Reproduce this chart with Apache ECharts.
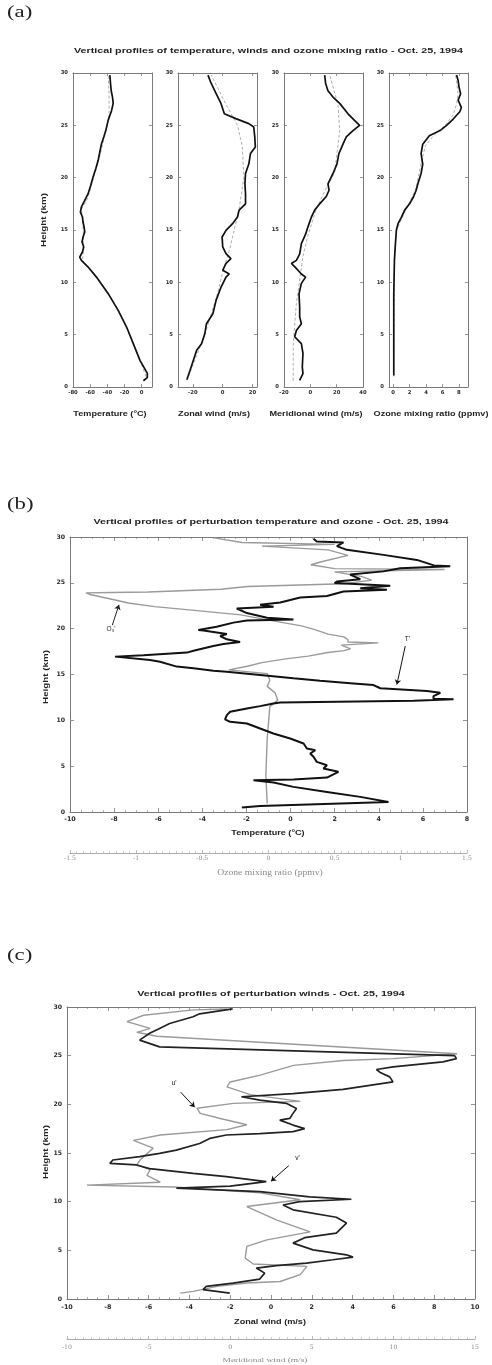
<!DOCTYPE html>
<html><head><meta charset="utf-8">
<script src="https://cdn.jsdelivr.net/npm/echarts@6/dist/echarts.min.js"></script>
<style>html,body{margin:0;padding:0;background:#fff}#c{width:492px;height:1365px}</style>
</head><body><div id="c"></div>
<script>
// ---------------- DATA ----------------
// Panel (a): profiles, heights (km) and values
const aTempH = [0.6,0.9,1.3,2.55,4.14,5.73,7.32,8.92,10.5,11.46,12.1,12.4,12.9,13.38,13.85,14.33,14.8,15.29,15.76,16.24,16.7,17.2,17.83,18.47,19.27,20.06,20.86,21.66,22.45,23.25,23.9,24.5,25.5,26.4,27.1,27.7,28.3,29.0,29.8];
const aTempV = [2,6.5,6.6,-2,-9.8,-17.6,-27.4,-39,-52.7,-62.4,-70.2,-72.2,-69,-67.5,-69.5,-68.3,-66.3,-67.1,-68.3,-69,-71.4,-70.2,-66.3,-62.4,-59.3,-56.6,-53.5,-50.7,-48.8,-46.8,-44.1,-41.8,-39,-35.1,-33.2,-34,-35.5,-36.3,-37.1];
const aTempRefH = [1,3,5,7,9,11,12,13,15,17,18,20,22,24,26,28,29.8];
const aTempRefV = [5,-4,-14,-25,-39,-57,-69,-68,-68,-70,-63,-56,-49,-43,-38,-38,-39];

const aZonH = [0.7,1.6,2.55,3.5,4.14,5.1,6.05,7,8.3,9.55,10.5,10.8,11.15,11.8,12.26,12.74,13.38,14.33,14.97,15.6,16.24,16.9,17.5,18.47,19.43,20.4,21.3,22.3,22.93,23.9,24.84,25.16,25.64,26.1,27.07,28.03,29,29.8];
const aZonV = [-24.1,-21.9,-19.7,-17.5,-14.2,-12,-10.9,-6.6,-4.4,-1.1,2.2,4.4,0,2.2,5.5,2.2,0,-0.4,2.2,6.6,9.9,11,15.3,15.3,14.9,15.3,17.5,18.6,21.9,21.5,20.8,17.5,8.8,1.1,-1.1,-4.4,-7.7,-9.9];
const aZonRefH = [1,3,5,7,9,11,13,15,17,20,23,25,27,29.8];
const aZonRefV = [-23,-17.5,-12,-7.7,-3.3,0,4.4,7.7,11,14.2,13.1,9.9,2.2,-7.7];

const aMerH = [0.64,1.27,1.9,3.2,4.14,4.8,5.4,6.05,6.7,7.6,8.9,9.9,10.5,10.8,11.5,11.8,12.1,12.7,13.7,14.6,15.3,16.2,16.9,17.5,18.2,18.8,19.4,20.4,21.3,22.3,23.2,23.9,24.5,25.0,25.3,26.1,27.1,27.7,28.3,29.0,29.8];
const aMerV = [-8.1,-5.6,-6.1,-5.6,-6.8,-11.9,-10.6,-6.8,-8.1,-8.1,-8.6,-6.8,-3.6,-6.8,-11.9,-14.4,-10.6,-8.1,-6.8,-3.6,-1.8,0.7,3.3,7.1,12.1,14.2,13.4,17.2,20.2,21.7,24.8,27.3,32.4,37.4,34.9,28.6,22.3,17.2,13.4,11.6,10.9];
const aMerRefH = [0.6,4,8,12.5,14.5,17,19,20.5,24.5,27,29.8];
const aMerRefV = [-13,-13,-10.6,-5.6,-1.8,4.5,12,18.5,22.3,21,14.7];

const aOzH = [1.1,8.9,12.1,13.7,15,15.6,16.2,16.9,17.5,18.2,18.8,19.4,20.4,21.3,22.3,23.2,24,24.5,25,25.6,26.3,26.7,27.4,28,28.7,29.3,29.8];
const aOzV = [0.08,0.08,0.16,0.28,0.4,0.6,1.0,1.4,2.0,2.5,2.8,3.0,3.4,3.6,3.4,3.6,4.4,5.7,6.5,7.3,8.1,8.3,7.9,8.2,8.0,7.9,7.7];
const aOzRefH = [1,12,15,17,19,21,22,23,24,25,26,27,28,29.8];
const aOzRefV = [0.08,0.15,0.4,1.6,2.8,3.3,3.6,3.9,4.9,6.3,7.3,7.7,7.9,7.6];

const aTempTicks = [-80,-60,-40,-20,0];
const aZonTicks = [-20,0,20];
const aMerTicks = [-20,0,20,40];
const aOzTicks = [0,2,4,6,8];

// Panel (b): perturbation temperature T' and ozone O3'
const bTH = [0.48,0.66,1.1,1.65,2.19,2.74,3.21,3.47,3.54,3.76,4.38,4.74,5.1,5.47,6.02,6.38,6.74,6.93,7.47,8.02,8.57,9.11,9.66,9.84,10.1,10.57,10.93,11.3,11.55,11.84,11.95,12.13,12.31,12.35,12.64,13.0,13.2,13.5,13.85,14.03,14.32,14.58,14.95,15.31,15.42,15.67,15.86,16.4,16.58,16.95,17.1,17.39,17.6,18.1,18.33,18.55,18.84,19.2,19.42,19.79,19.86,20.2,20.66,20.9,21.0,21.2,21.7,22.2,22.4,22.6,22.85,23.4,23.57,24.06,24.24,24.42,24.67,24.97,25.15,25.4,25.9,26.25,26.6,26.8,26.9,27.5,28.05,28.6,29.0,29.4,29.5,29.8];
const bTV = [-2.21,-1.38,4.44,3.16,1.65,0.13,-0.77,-1.68,0.13,1.65,2.17,1.49,1.65,1.19,1.04,0.89,1.12,0.74,0.59,-0.02,-0.78,-1.38,-1.98,-2.74,-2.97,-2.89,-2.74,-1.98,-1.38,-0.78,-0.47,5.58,7.39,6.48,6.48,6.79,6.18,4.07,3.76,2.85,1.34,0.13,-1.38,-2.89,-3.5,-4.4,-5.16,-5.92,-6.37,-7.96,-6.67,-4.7,-4.4,-3.5,-3.04,-2.29,-2.89,-3.19,-2.89,-3.95,-4.18,-3.35,-2.59,-1.98,0.13,-1.07,-1.98,-2.44,-0.77,-1.38,-0.47,0.44,1.65,2.4,4.37,3.16,4.52,2.0,2.1,3.16,2.7,4.21,4.97,7.24,6.5,5.73,4.21,2.55,2.1,2.4,1.19,1.04];
const bOH = [0.92,4,8,11.5,12.2,13.0,13.7,14.4,15.1,15.5,15.9,16.3,16.7,17.0,17.4,17.6,17.8,18.2,18.45,18.55,18.8,19.1,19.4,19.9,20.3,20.6,21.1,21.5,22.0,22.4,22.8,23.1,23.7,23.9,23.95,24.0,24.3,24.6,24.9,25.3,25.7,26.2,26.45,26.55,26.97,27.3,28.0,28.6,29.0,29.2,29.4,29.9];
const bOV = [-0.01,-0.02,-0.01,0.01,0.07,0.05,-0.01,0.01,-0.01,-0.3,-0.16,-0.05,0.13,0.3,0.45,0.57,0.62,0.55,0.83,0.6,0.6,0.57,0.45,0.35,0.25,0.13,-0.06,-0.21,-0.56,-0.86,-1.06,-1.15,-1.34,-1.38,-1.19,-0.91,-0.36,-0.16,0.57,0.78,0.70,0.5,1.33,0.5,0.32,0.4,0.6,0.45,-0.05,0.5,-0.2,-0.41];

// Panel (c): perturbation winds u' (zonal) and v' (meridional)
const cUH = [0.6,0.96,1.3,1.64,2.05,2.66,3.18,3.42,3.69,4.03,4.3,4.54,5.05,5.74,6.3,6.77,7.8,8.4,9.16,9.66,10.0,10.25,10.5,11.03,11.4,11.6,12.06,12.58,12.9,13.4,13.77,13.94,14.28,14.62,14.96,15.3,15.98,16.5,16.85,17.0,17.2,17.5,17.87,18.38,18.55,19.07,19.58,20.1,20.44,20.78,21.1,21.53,22.31,22.82,23.3,23.58,23.85,24.37,24.7,25.0,25.9,26.6,27.3,27.8,28.3,29.0,29.3,29.8];
const cUV = [-2.02,-3.33,-3.17,-1.86,-0.55,-0.31,-0.72,0.26,1.74,3.04,4.02,3.7,2.06,1.08,1.65,3.2,3.7,3.2,1.08,0.59,1.4,3.94,1.9,-0.55,-4.64,-2.0,-0.23,-2.19,-3.82,-5.95,-6.6,-7.9,-7.75,-6.44,-5.46,-4.64,-3.5,-3.0,-2.19,-0.55,1.08,1.65,1.08,0.43,0.92,1.08,1.25,0.75,-0.55,-1.45,1.08,3.53,5.98,5.82,5.33,5.17,5.98,8.43,9.09,9.0,-5.46,-6.44,-5.95,-5.46,-4.97,-3.82,-3.5,-1.88];
const cVH = [0.6,0.78,1.3,1.64,1.8,2.5,3.35,3.6,4.2,5.4,6.08,6.9,8.1,9.5,10.2,10.9,11.5,11.7,12.0,12.7,13.3,13.8,14.3,15.5,16.3,16.85,17.4,17.9,18.55,19.07,19.6,20.1,20.3,21.0,21.8,22.3,23.0,24.0,24.5,24.7,25.2,25.4,27.0,27.4,27.8,28.5,29.15,29.7,29.8];
const cVV = [-3.06,-2.25,-0.81,1.02,3.06,4.29,4.7,1.41,0.92,1.02,2.25,4.9,2.86,1.02,4.29,1.84,-3.47,-8.78,-4.29,-5.1,-4.9,-5.72,-5.51,-4.72,-5.93,-4.29,-0.2,1.02,-0.61,-1.84,-2.04,0.2,4.29,1.23,-0.2,0,1.84,3.88,6.94,10.0,13.9,13.8,-4.49,-5.72,-4.9,-6.33,-5.31,-2.25,-0.2];

// ---------------- CHART ----------------
const SANS = '"Liberation Sans", Arial, sans-serif';
const TICKF = '"DejaVu Sans", sans-serif';
const SERIF = '"Liberation Serif", "Times New Roman", serif';
const TSERIF = '"DejaVu Serif", serif';
const AXC = '#7a7a7a';
const SX = 1.34; // horizontal stretch of the original figure's lettering
function zip(h, v) { const n = Math.min(h.length, v.length), o = []; for (let i = 0; i < n; i++) o.push([v[i], h[i]]); return o; }

const grids = [
  {left: 73, top: 73, width: 79, height: 314},
  {left: 178, top: 73, width: 79, height: 314},
  {left: 284, top: 73, width: 79, height: 314},
  {left: 389, top: 73, width: 79, height: 314},
  {left: 70, top: 537, width: 397, height: 275},
  {left: 67, top: 1007, width: 408, height: 292}
];
const xAxes = [], yAxes = [], series = [];

function tick(len, custom, color) {
  const t = {show: true, inside: true, length: len, lineStyle: {color: color || AXC, width: 0.8}};
  if (custom) t.customValues = custom;
  return t;
}
function xAxis(gi, o) {
  const ax = {
    gridIndex: gi, type: 'value', position: o.position || 'bottom', offset: o.offset || 0,
    min: o.min, max: o.max, scale: true,
    axisLine: {show: true, onZero: false, lineStyle: {color: o.lineColor || AXC, width: 1}},
    axisTick: tick(o.tickLen || 3, o.ticks, o.lineColor),
    minorTick: o.minor ? {show: true, splitNumber: o.minor, length: o.minorLen || 2, lineStyle: {color: o.lineColor || AXC, width: 0.6}} : {show: false},
    axisLabel: o.noLabel ? {show: false} : Object.assign({show: true, margin: o.margin, fontFamily: o.labelFont || TICKF, fontSize: o.fontSize || 6, fontWeight: o.labelWeight || 'bold', color: o.labelColor || '#2a2a2a', showMinLabel: true, showMaxLabel: true}, o.ticks ? {customValues: o.ticks} : {}),
    splitLine: {show: false}, minorSplitLine: {show: false}
  };
  if (o.interval) ax.interval = o.interval;
  xAxes.push(ax); return xAxes.length - 1;
}
function yAxis(gi, o) {
  const ax = {
    gridIndex: gi, type: 'value', position: o.position || 'left', min: 0, max: 30, interval: 5,
    axisLine: {show: true, onZero: false, lineStyle: {color: AXC, width: 1}},
    axisTick: tick(o.tickLen || 3),
    axisLabel: o.noLabel ? {show: false} : {show: true, margin: o.margin, fontFamily: TICKF, fontSize: o.fontSize || 6, fontWeight: 'bold', color: '#2a2a2a'},
    splitLine: {show: false}
  };
  yAxes.push(ax); return yAxes.length - 1;
}
function line(xi, yi, data, color, width, type, extra) {
  series.push(Object.assign({
    type: 'line', xAxisIndex: xi, yAxisIndex: yi, data: data, symbol: 'none', showSymbol: false,
    lineStyle: {color: color, width: width, type: type || 'solid'}, silent: true, animation: false, clip: true
  }, extra || {}));
}

// Panel (a)
const aCfg = [
  {min: -80, max: 12, ticks: aTempTicks, obs: zip(aTempH, aTempV), ref: zip(aTempRefH, aTempRefV)},
  {min: -30, max: 23, ticks: aZonTicks, obs: zip(aZonH, aZonV), ref: zip(aZonRefH, aZonRefV)},
  {min: -20, max: 40, ticks: aMerTicks, obs: zip(aMerH, aMerV), ref: zip(aMerRefH, aMerRefV)},
  {min: -0.5, max: 9.1, ticks: aOzTicks, obs: zip(aOzH, aOzV), ref: zip(aOzRefH, aOzRefV)}
];
aCfg.forEach((c, i) => {
  const xb = xAxis(i, {min: c.min, max: c.max, ticks: c.ticks, margin: 3, fontSize: 5.3});
  xAxis(i, {min: c.min, max: c.max, ticks: c.ticks, position: 'top', noLabel: true});
  const yl = yAxis(i, {margin: 5, fontSize: 5.3});
  yAxis(i, {position: 'right', noLabel: true});
  line(xb, yl, c.ref, '#9a9a9a', 0.8, [3, 2]);
  line(xb, yl, c.obs, '#111', 1.7, 'solid');
});

// Panel (b)
const bx = xAxis(4, {min: -10, max: 8, interval: 2, minor: 4, tickLen: 4, margin: 4, fontSize: 6.4});
const bxo = xAxis(4, {min: -1.5, max: 1.5, interval: 0.5, minor: 10, offset: 41, tickLen: 3, minorLen: 2, lineColor: '#ababab', margin: 2, fontSize: 6.2, labelFont: TSERIF, labelWeight: 'normal', labelColor: '#8a8a8a'});
xAxis(4, {min: -10, max: 8, interval: 2, minor: 4, tickLen: 4, position: 'top', noLabel: true});
const by = yAxis(4, {margin: 5, fontSize: 6.2, tickLen: 4});
yAxis(4, {position: 'right', noLabel: true, tickLen: 4});
line(bxo, by, zip(bOH, bOV), '#9a9a9a', 1.4, 'solid', {
  markLine: {silent: true, symbol: ['none', 'arrow'], symbolSize: 5, animation: false, label: {show: false},
    lineStyle: {color: '#222', width: 1, type: 'solid'}, data: [[{coord: [-1.18, 20.4]}, {coord: [-1.13, 22.6]}]]},
  markPoint: {silent: true, symbol: 'circle', symbolSize: 1, itemStyle: {color: 'rgba(0,0,0,0)'}, animation: false,
    label: {show: true, position: 'inside', formatter: '{b}', fontFamily: SANS, fontSize: 6.5, color: '#222'},
    data: [{name: "O₃'", coord: [-1.19, 19.9]}]}
});
line(bx, by, zip(bTH, bTV), '#111', 2.0, 'solid', {
  markLine: {silent: true, symbol: ['none', 'arrow'], symbolSize: 5, animation: false, label: {show: false},
    lineStyle: {color: '#111', width: 1, type: 'solid'}, data: [[{coord: [5.2, 18.1]}, {coord: [4.82, 13.9]}]]},
  markPoint: {silent: true, symbol: 'circle', symbolSize: 1, itemStyle: {color: 'rgba(0,0,0,0)'}, animation: false,
    label: {show: true, position: 'inside', formatter: '{b}', fontFamily: SANS, fontSize: 6.5, color: '#111'},
    data: [{name: "T'", coord: [5.3, 18.8]}]}
});

// Panel (c)
const cx = xAxis(5, {min: -10, max: 10, interval: 2, minor: 4, tickLen: 4, margin: 5, fontSize: 6.4});
const cxm = xAxis(5, {min: -10, max: 15, interval: 5, minor: 10, offset: 40, tickLen: 3, minorLen: 2, lineColor: '#ababab', margin: 5, fontSize: 6.2, labelFont: TSERIF, labelWeight: 'normal', labelColor: '#8a8a8a'});
xAxis(5, {min: -10, max: 10, interval: 2, minor: 4, tickLen: 4, position: 'top', noLabel: true});
const cy = yAxis(5, {margin: 5, fontSize: 6.2, tickLen: 4});
yAxis(5, {position: 'right', noLabel: true, tickLen: 4});
line(cxm, cy, zip(cVH, cVV), '#9a9a9a', 1.4, 'solid');
line(cx, cy, zip(cUH, cUV), '#222', 1.7, 'solid', {
  markLine: {silent: true, symbol: ['none', 'arrow'], symbolSize: 5, animation: false, label: {show: false},
    lineStyle: {color: '#111', width: 1, type: 'solid'},
    data: [[{coord: [-4.43, 21.25]}, {coord: [-3.74, 19.7]}], [{coord: [0.87, 13.7]}, {coord: [0.0, 12.1]}]]},
  markPoint: {silent: true, symbol: 'circle', symbolSize: 1, itemStyle: {color: 'rgba(0,0,0,0)'}, animation: false,
    label: {show: true, position: 'inside', formatter: '{b}', fontFamily: SANS, fontSize: 6.5, color: '#111'},
    data: [{name: "u'", coord: [-4.75, 22.2]}, {name: "v'", coord: [1.3, 14.5]}]}
});

// Text (titles, axis names, panel letters) — stretched horizontally like the original lettering
function txt(t, x, y, fs, o) {
  o = o || {};
  return {type: 'text', x: x, y: y, scaleX: o.scaleX || SX, rotation: o.rot || 0, silent: true, z: 10,
    style: {text: t, fontFamily: o.font || SANS, fontSize: fs, fontWeight: o.weight || 'bold', fill: o.color || '#222',
      align: o.align || 'center', verticalAlign: 'middle'}};
}
const R = Math.PI / 2;
const graphics = [
  txt('(a)', 7, 13, 17, {font: SERIF, weight: 'normal', align: 'left'}),
  txt('Vertical profiles of temperature, winds and ozone mixing ratio - Oct. 25, 1994', 268.5, 51, 8),
  txt('Height (km)', 44, 220, 7.3, {rot: R}),
  txt('Temperature (°C)', 110, 414, 6.8),
  txt('Zonal wind (m/s)', 214, 414, 6.8),
  txt('Meridional wind (m/s)', 316, 414, 6.8),
  txt('Ozone mixing ratio (ppmv)', 431, 414, 6.8),

  txt('(b)', 7, 505, 17, {font: SERIF, weight: 'normal', align: 'left'}),
  txt('Vertical profiles of perturbation temperature and ozone - Oct. 25, 1994', 271, 522, 8),
  txt('Height (km)', 46, 677, 7.3, {rot: R}),
  txt('Temperature (°C)', 268, 833, 6.8),
  txt('Ozone mixing ratio (ppmv)', 270, 873, 7.2, {font: SERIF, weight: 'normal', color: '#8a8a8a'}),

  txt('(c)', 7, 956, 17, {font: SERIF, weight: 'normal', align: 'left'}),
  txt('Vertical profiles of perturbation winds - Oct. 25, 1994', 271, 993.5, 8),
  txt('Height (km)', 46, 1152, 7.3, {rot: R}),
  txt('Zonal wind (m/s)', 270, 1322, 6.8),
  txt('Meridional wind (m/s)', 265, 1360, 7, {font: SERIF, weight: 'normal', color: '#8a8a8a'})
];

const chart = echarts.init(document.getElementById('c'), null, {renderer: 'canvas'});
chart.setOption({
  backgroundColor: '#fff',
  animation: false,
  grid: grids,
  xAxis: xAxes,
  yAxis: yAxes,
  series: series,
  graphic: graphics
});
</script></body></html>
